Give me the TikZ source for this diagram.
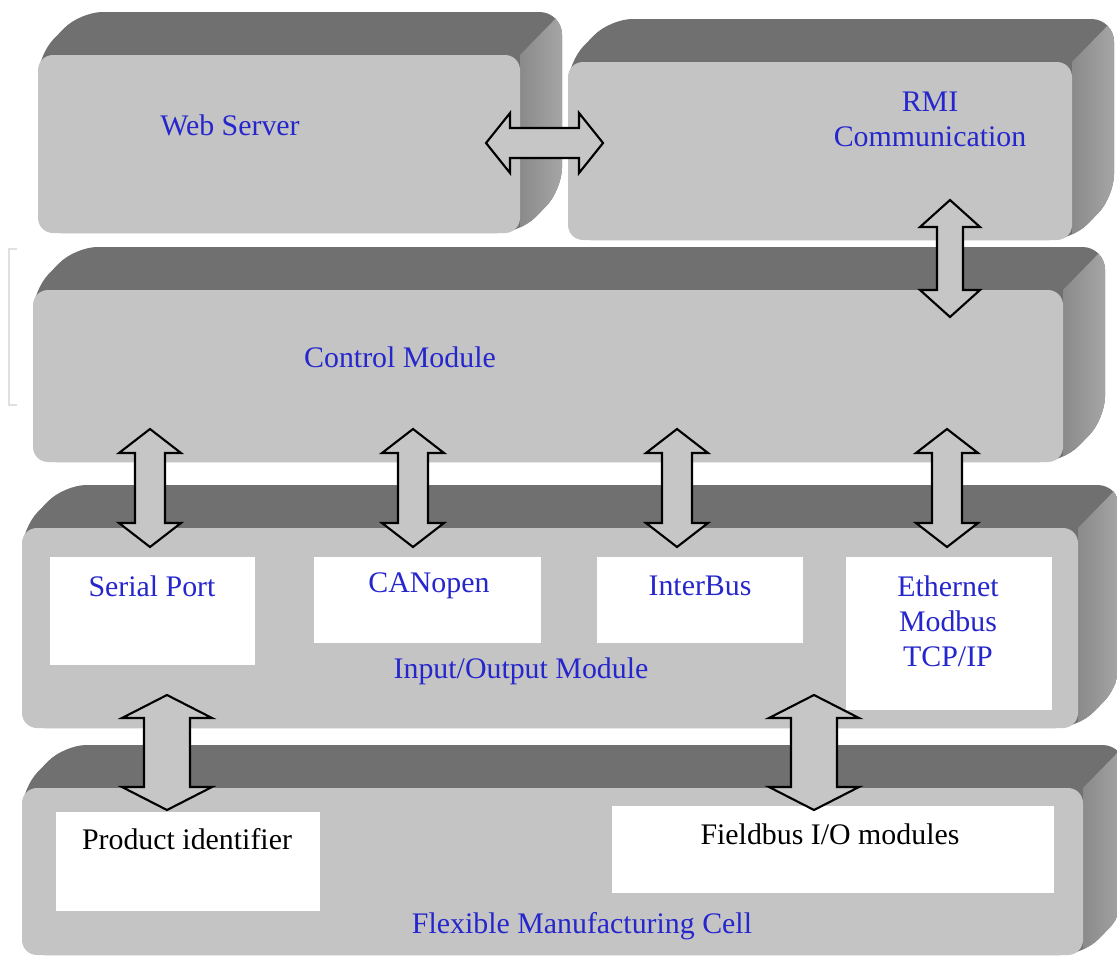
\documentclass[tikz,border=0pt]{standalone}
\usepackage{fontspec}
\setmainfont{Liberation Serif}
\usetikzlibrary{calc,fit}

\definecolor{bandgray}{RGB}{112,112,112}
\definecolor{facegray}{RGB}{196,196,196}
\definecolor{innergray}{RGB}{202,202,202}
\definecolor{sidedark}{RGB}{138,138,138}
\definecolor{sidelight}{RGB}{172,172,172}
\definecolor{arrowgray}{RGB}{198,198,198}
\definecolor{textblue}{RGB}{38,38,205}

\tikzset{
  modtext/.style={font=\fontsize{17}{20}\selectfont, text=textblue, align=center, inner sep=0pt},
  boxtext/.style={modtext, text=black},
  portbox/.style={fill=white, inner sep=0pt},
  linkarrow/.style={fill=arrowgray, draw=black, line width=1.2pt, line join=miter}
}

% depth of the slabs
\def\slabdx{42}
\def\slabdy{43}
% front face (x0,y0)(x1,y1)
\def\slab(#1,#2)(#3,#4){%
  \begin{scope}
    \clip[rounded corners=0.45cm] (#1,#4) -- (#1,#2) -- (#1+\slabdx,#2-\slabdy) -- (#3+\slabdx,#2-\slabdy) -- (#3+\slabdx,#4-\slabdy) -- (#3,#4) -- cycle;
    \fill[bandgray] (#1-5,#2-\slabdy-5) rectangle (#3+\slabdx+5,#4+5);
    \shade[left color=sidedark, right color=sidelight] (#3,#2) -- (#3+\slabdx,#2-\slabdy) -- (#3+\slabdx+10,#2-\slabdy) -- (#3+\slabdx+10,#4+5) -- (#3,#4+5) -- cycle;
  \end{scope}
  \fill[facegray, rounded corners=0.3cm] (#1,#2) rectangle (#3,#4);
}
% double block arrow (a)(b){shaft}{head}{head length}
\def\duplex(#1)(#2)#3#4#5{%
  \path ($(#1)!#5!(#2)$) coordinate (hA) ($(#2)!#5!(#1)$) coordinate (hB);
  \draw[linkarrow] (#1) -- ($(hA)!#4!90:(#2)$) -- ($(hA)!#3!90:(#2)$) -- ($(hB)!#3!-90:(#1)$) -- ($(hB)!#4!-90:(#1)$) -- (#2) -- ($(hB)!#4!90:(#1)$) -- ($(hB)!#3!90:(#1)$) -- ($(hA)!#3!-90:(#2)$) -- ($(hA)!#4!-90:(#2)$) -- cycle;
}

\begin{document}
\begin{tikzpicture}[x=0.02cm, y=-0.02cm]
	\useasboundingbox (0,0) rectangle (1117,957);
	
	%%%%% SLABS %%%%%
	\slab(38,55)(520,233)
	\slab(568,62)(1072,240)
	\slab(33,290)(1063,462)
	\slab(22,528)(1078,728)
	\slab(22,788)(1083,955)
	
	\draw[black!12, line width=0.8pt] (17,249) -- (9,249) -- (9,405) -- (17,405);
	
	%%%%% LABELS %%%%%
	\node[modtext] (web) at (230,125) {Web Server};
	\node[modtext] (rmi) at (930,119) {RMI\\Communication};
	\node[modtext] (ctl) at (400,357) {Control Module};
	\node[modtext] (io) at (521,671) {Input/Output Module};
	\node[modtext] (fmc) at (582,926) {Flexible Manufacturing Cell};
	
	\node[portbox, fit={(50,557) (255,665)}] (serial) {};
	\node[portbox, fit={(314,557) (541,643)}] (canopen) {};
	\node[portbox, fit={(597,557) (803,643)}] (interbus) {};
	\node[portbox, fit={(846,557) (1052,710)}] (ethernet) {};
	\node[portbox, fit={(56,812) (320,911)}] (product) {};
	\node[portbox, fit={(612,806) (1054,893)}] (fieldbus) {};
	
	\node[modtext] (serialtxt) at (152,586) {Serial Port};
	\node[modtext] (canopentxt) at (429,586) {CANopen};
	\node[modtext] (interbustxt) at (700,586) {InterBus};
	\node[modtext] (ethernettxt) at (948,621) {Ethernet\\Modbus\\TCP/IP};
	\node[boxtext] (producttxt) at (187,839) {Product identifier};
	\node[boxtext] (fieldbustxt) at (830,834) {Fieldbus I/O modules};
	
	%%%%% LINKS %%%%%
	\coordinate (webR) at (486,143);
	\coordinate (rmiL) at (603,143);
	\coordinate (rmiB) at (950,200);
	\coordinate (ctlT) at (950,317);
	\foreach \x [count=\i] in {150,413,677,947} {
		\coordinate (ctl\i) at (\x,429);
		\coordinate (io\i) at (\x,547);
	}
	\coordinate (ioA) at (167,695);
	\coordinate (fmcA) at (167,810);
	\coordinate (ioB) at (814,695);
	\coordinate (fmcB) at (814,810);
	
	\duplex(webR)(rmiL){0.3cm}{0.6cm}{0.48cm}
	\duplex(rmiB)(ctlT){0.26cm}{0.6cm}{0.54cm}
	\foreach \i in {1,...,4} {
		\duplex(ctl\i)(io\i){0.3cm}{0.62cm}{0.48cm}
	}
	\duplex(ioA)(fmcA){0.46cm}{0.9cm}{0.46cm}
	\duplex(ioB)(fmcB){0.46cm}{0.9cm}{0.46cm}
\end{tikzpicture}
\end{document}
